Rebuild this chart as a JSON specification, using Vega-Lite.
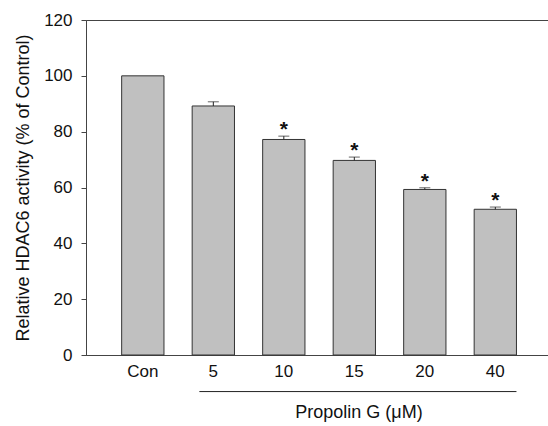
{
  "$schema": "https://vega.github.io/schema/vega-lite/v6.json",
  "width": 463,
  "height": 335,
  "autosize": {"type": "none"},
  "padding": {"left": 86, "top": 20, "right": 0, "bottom": 71},
  "background": "white",
  "config": {
    "view": {"stroke": "#444", "strokeWidth": 1},
    "font": "Liberation Sans",
    "axis": {"domainColor": "#444", "tickColor": "#444", "labelColor": "#111", "titleColor": "#111", "labelFont": "Liberation Sans", "titleFont": "Liberation Sans", "grid": false}
  },
  "data": {"values": [
    {"conc": "Con", "activity": 100, "upper": 100, "sig": ""},
    {"conc": "5", "activity": 89.2, "upper": 90.7, "sig": ""},
    {"conc": "10", "activity": 77.2, "upper": 78.4, "sig": "*"},
    {"conc": "15", "activity": 69.7, "upper": 70.9, "sig": "*"},
    {"conc": "20", "activity": 59.3, "upper": 59.9, "sig": "*"},
    {"conc": "40", "activity": 52.2, "upper": 53.0, "sig": "*"}
  ]},
  "encoding": {
    "x": {
      "field": "conc", "type": "nominal", "sort": null,
      "scale": {"domain": ["Con", "5", "10", "15", "20", "40"], "paddingInner": 0.4, "paddingOuter": 0.4837, "align": 0.523},
      "axis": {"title": null, "ticks": false, "labelPadding": 8, "labelFontSize": 17, "labelAngle": 0, "domainWidth": 1}
    }
  },
  "layer": [
    {
      "mark": {"type": "bar", "fill": "#c0c0c0", "stroke": "#333", "strokeWidth": 1},
      "encoding": {
        "y": {
          "field": "activity", "type": "quantitative",
          "title": "Relative HDAC6 activity (% of Control)",
          "scale": {"domain": [0, 120], "nice": false},
          "axis": {"values": [0, 20, 40, 60, 80, 100, 120], "tickSize": 5, "labelPadding": 9, "labelFontSize": 17, "titleFontSize": 18, "titleFontWeight": "normal", "titlePadding": 11}
        }
      }
    },
    {
      "transform": [{"filter": "datum.conc != 'Con'"}],
      "mark": {"type": "rule", "color": "#222", "strokeWidth": 1},
      "encoding": {
        "y": {"field": "activity", "type": "quantitative", "title": "Relative HDAC6 activity (% of Control)", "scale": {"domain": [0, 120], "nice": false}},
        "y2": {"field": "upper"}
      }
    },
    {
      "transform": [{"filter": "datum.conc != 'Con'"}],
      "mark": {"type": "tick", "color": "#222", "size": 11, "thickness": 1},
      "encoding": {
        "y": {"field": "upper", "type": "quantitative", "title": "Relative HDAC6 activity (% of Control)", "scale": {"domain": [0, 120], "nice": false}}
      }
    },
    {
      "mark": {"type": "text", "fontSize": 21, "fontWeight": "bold", "baseline": "alphabetic", "align": "center", "color": "#111"},
      "encoding": {
        "y": {"field": "upper", "type": "quantitative", "title": "Relative HDAC6 activity (% of Control)", "scale": {"domain": [0, 120], "nice": false}},
        "text": {"field": "sig"}
      }
    },
    {
      "data": {"values": [{"group": "Propolin G (μM)"}]},
      "mark": {"type": "rule", "color": "#222", "strokeWidth": 1},
      "encoding": {
        "x": {"datum": "5", "bandPosition": 0.17, "type": "nominal"},
        "x2": {"datum": "40", "bandPosition": 1},
        "y": {"datum": -13.1, "type": "quantitative", "title": "Relative HDAC6 activity (% of Control)", "scale": {"domain": [0, 120], "nice": false}}
      }
    },
    {
      "data": {"values": [{"group": "Propolin G (μM)"}]},
      "mark": {"type": "text", "fontSize": 18, "baseline": "alphabetic", "align": "center", "color": "#111"},
      "encoding": {
        "x": {"datum": "15", "bandPosition": 0.61, "type": "nominal"},
        "y": {"datum": -22.4, "type": "quantitative", "title": "Relative HDAC6 activity (% of Control)", "scale": {"domain": [0, 120], "nice": false}},
        "text": {"field": "group"}
      }
    }
  ]
}
